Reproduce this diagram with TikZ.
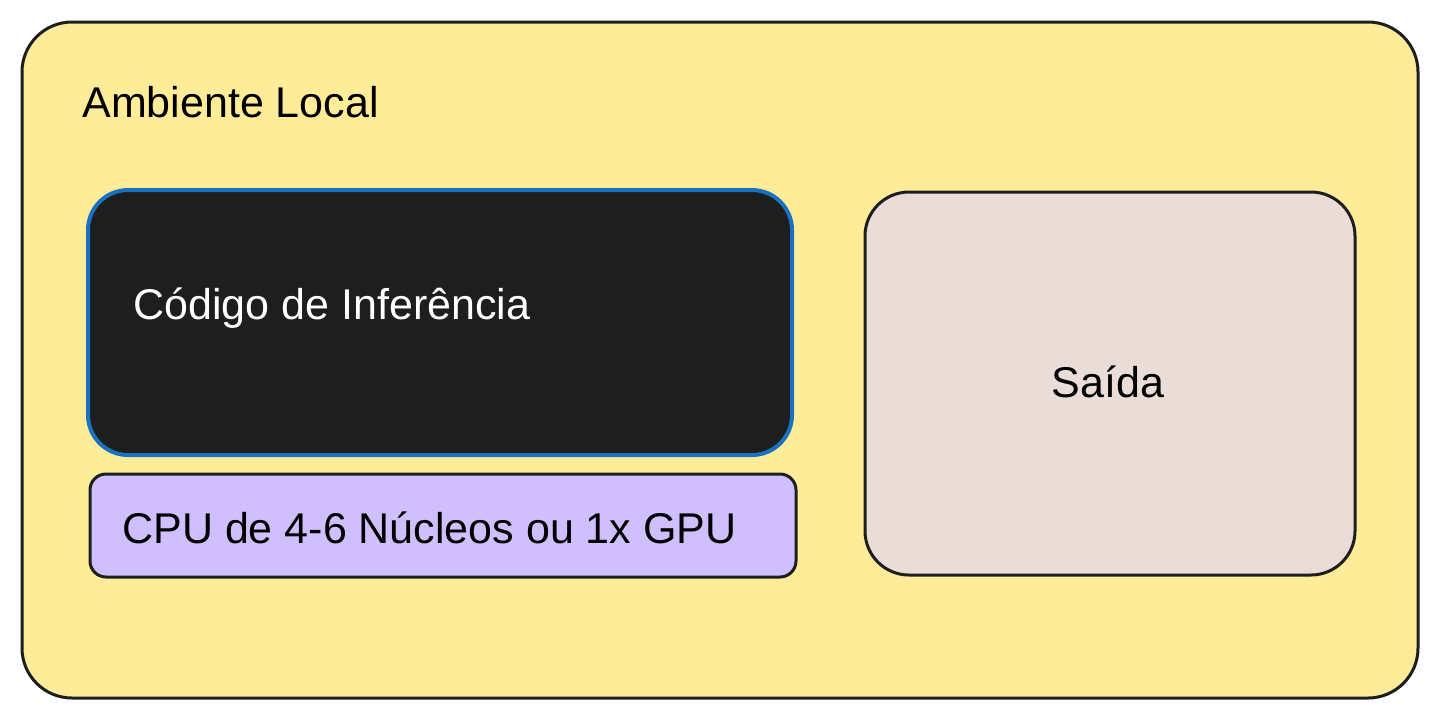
\documentclass[tikz,border=0pt]{standalone}
\usepackage{fontspec}
\setmainfont{Liberation Sans}
\definecolor{bgy}{HTML}{FFEC99}
\definecolor{dark}{HTML}{1E1E1E}
\definecolor{blu}{HTML}{1971C2}
\definecolor{lav}{HTML}{D0BFFF}
\definecolor{pnk}{HTML}{EADDD7}
\begin{document}
\begin{tikzpicture}[x=0.5pt,y=-0.5pt,
  box/.style={line width=1.5pt,draw=dark},
  lbl/.style={font=\fontsize{21.5}{24}\selectfont,inner sep=0pt}]
\useasboundingbox (0,0) rectangle (1438,720);
\fill[white] (0,0) rectangle (1438,720);
\draw[box,fill=bgy,rounded corners=25pt] (22,22) rectangle (1418,698);
\node[lbl,anchor=west] (amb) at (82,102) {Ambiente Local};
\draw[line width=2pt,draw=blu,fill=dark,rounded corners=20pt] (88,190) rectangle (792,455);
\node[lbl,anchor=west,text=white] (cod) at (133,308) {Código de Inferência};
\draw[box,fill=lav,rounded corners=8pt] (90,474) rectangle (796,577);
\node[lbl,anchor=west] (cpu) at (122,528) {CPU de 4-6 Núcleos ou 1x GPU};
\draw[box,fill=pnk,rounded corners=22pt] (865,192) rectangle (1355,575);
\node[lbl] (sai) at (1108,382) {Saída};
\end{tikzpicture}
\end{document}
